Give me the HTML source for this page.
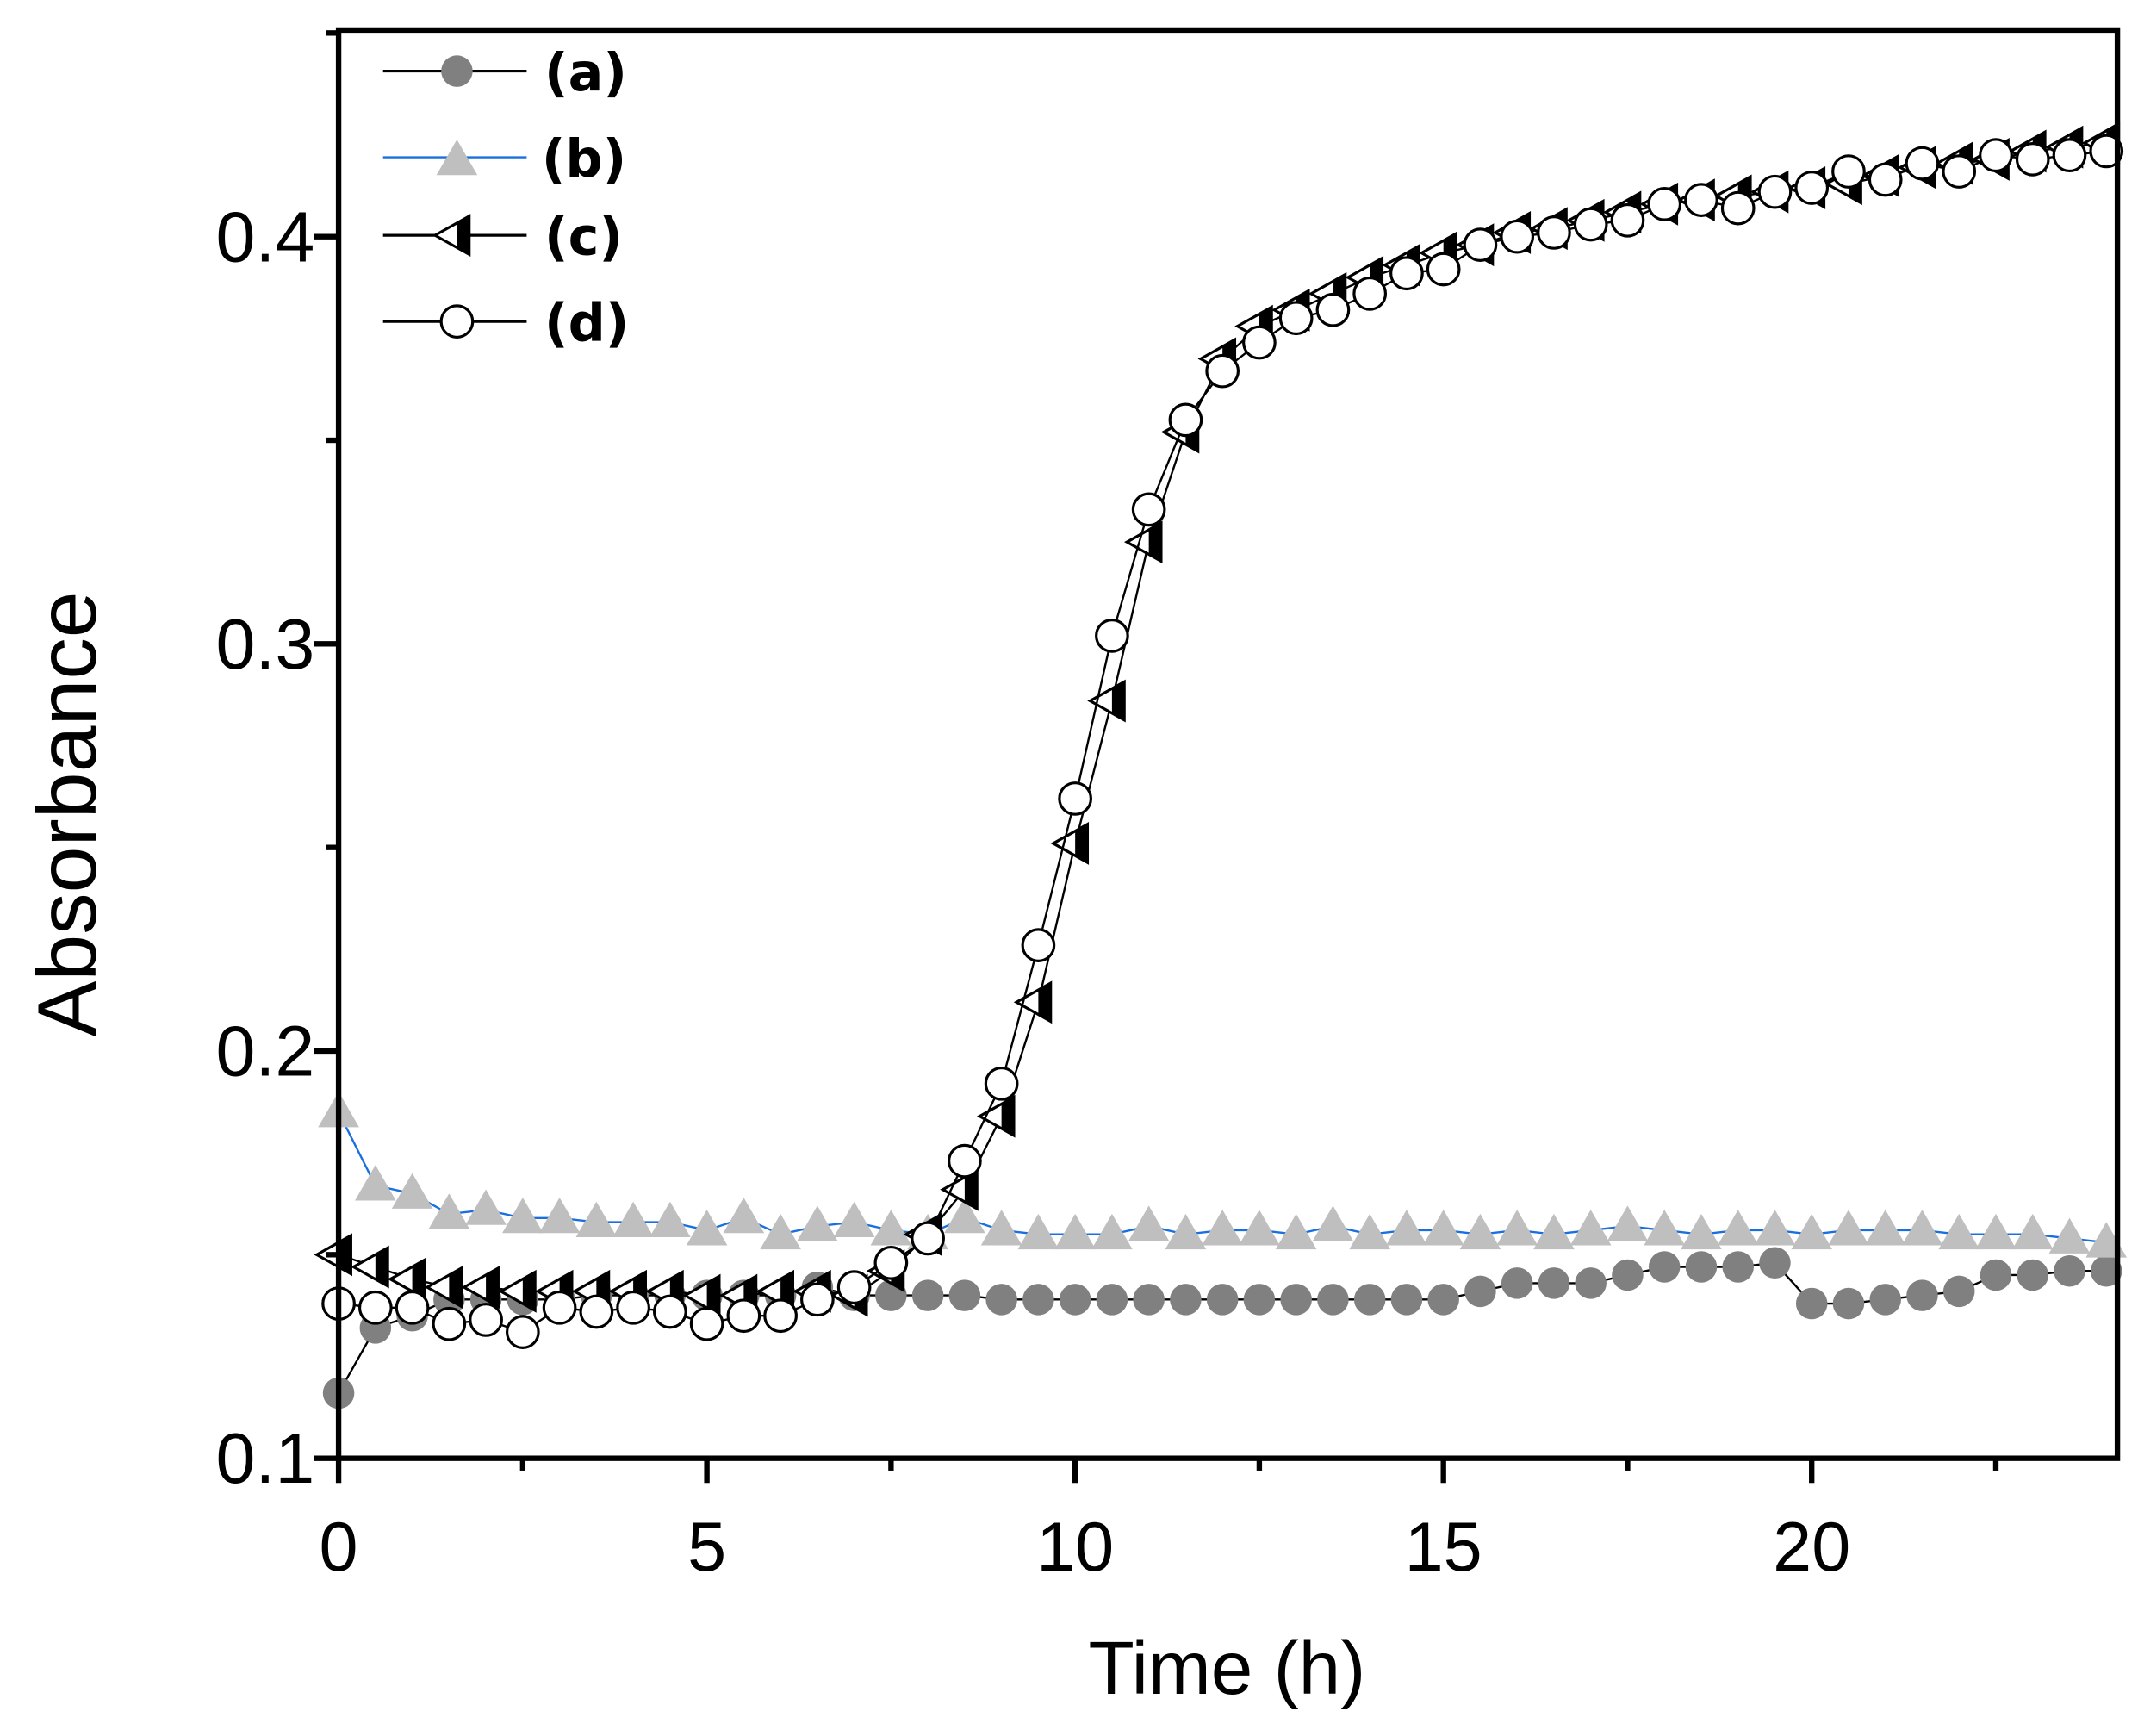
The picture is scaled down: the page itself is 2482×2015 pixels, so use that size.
<!DOCTYPE html>
<html><head><meta charset="utf-8"><style>html,body{margin:0;padding:0;background:#fff}svg{display:block}</style></head>
<body>
<svg id="s" xmlns="http://www.w3.org/2000/svg" width="2482" height="2015" viewBox="0 0 1563 1269" font-family="'Liberation Sans',sans-serif">
<rect width="1563" height="1269" fill="#fff"/>
<g id="plot"></g>
<rect x="247.5" y="22" width="1300.5" height="1044" fill="none" stroke="#000" stroke-width="4"/>
<g id="ax"></g>
<text x="897" y="1238" font-size="55" text-anchor="middle">Time (h)</text>
<text transform="translate(70,595) rotate(-90)" font-size="61" text-anchor="middle">Absorbance</text>
<g id="leg"></g>
</svg>
<script>
const NS="http://www.w3.org/2000/svg";
const X=t=>247.5+t*53.85, Y=v=>1066-(v-0.1)*2976.7;
function el(p,n,a,txt){const e=document.createElementNS(NS,n);for(const k in a)e.setAttribute(k,a[k]);if(txt!==undefined)e.textContent=txt;p.appendChild(e);return e;}
const ax=document.getElementById('ax'),plot=document.getElementById('plot'),leg=document.getElementById('leg');
for(let t=0;t<=24;t+=2.5){const maj=t%5===0;el(ax,'line',{x1:X(t),x2:X(t),y1:1066,y2:1066+(maj?18:9),stroke:'#000','stroke-width':4});
 if(maj)el(ax,'text',{x:X(t),y:1148,'font-size':51,'text-anchor':'middle'},String(t));}
for(let v=0.1;v<=0.451;v+=0.05){const maj=Math.round(v*100)%10===0;const y=Y(v);el(ax,'line',{x1:247.5,x2:247.5-(maj?18:9),y1:y,y2:y,stroke:'#000','stroke-width':4});
 if(maj)el(ax,'text',{x:230,y:y+18,'font-size':52,'text-anchor':'end'},v.toFixed(1));}
const a=[.116,.132,.135,.139,.139,.139,.139,.14,.14,.14,.14,.14,.14,.142,.14,.14,.14,.14,.139,.139,.139,.139,.139,.139,.139,.139,.139,.139,.139,.139,.139,.141,.143,.143,.143,.145,.147,.147,.147,.148,.138,.138,.139,.14,.141,.145,.145,.146,.146];
const b=[.185,.167,.165,.160,.161,.159,.159,.158,.158,.158,.156,.159,.155,.157,.158,.156,.155,.159,.156,.155,.155,.155,.157,.155,.156,.156,.155,.157,.155,.156,.156,.155,.156,.155,.156,.157,.156,.155,.156,.156,.155,.156,.156,.156,.155,.155,.155,.154,.153];
const c=[.150,.147,.144,.142,.142,.141,.141,.141,.141,.141,.140,.140,.141,.141,.140,.146,.155,.166,.184,.212,.251,.286,.325,.352,.370,.378,.382,.386,.390,.393,.396,.398,.401,.402,.404,.406,.408,.409,.410,.411,.412,.413,.415,.417,.418,.419,.421,.422,.423];
const d=[.138,.137,.137,.133,.134,.131,.137,.136,.137,.136,.133,.135,.135,.139,.142,.148,.154,.173,.192,.226,.262,.302,.333,.355,.367,.374,.380,.382,.386,.391,.392,.398,.400,.401,.403,.404,.408,.409,.407,.411,.412,.416,.414,.418,.416,.420,.419,.420,.421];
function line(arr,col,w){el(plot,'polyline',{points:arr.map((v,i)=>X(i*0.5)+','+Y(v)).join(' '),fill:'none',stroke:col,'stroke-width':w});}
function circ(p,x,y,fill){el(p,'circle',{cx:x,cy:y,r:11.5,fill:fill,stroke:fill==='#fff'?'#000':'none','stroke-width':2});}
function tri(p,x,y){el(p,'polygon',{points:`${x},${y-15} ${x+15},${y+11} ${x-15},${y+11}`,fill:'#bfbfbf'});}
function ltri(p,x,y){el(p,'polygon',{points:`${x-16},${y} ${x+9},${y-14} ${x+9},${y+14}`,fill:'#fff',stroke:'#000','stroke-width':2});
 el(p,'polygon',{points:`${x},${y-9} ${x+9},${y-14} ${x+9},${y+14} ${x},${y+9}`,fill:'#000'});}
line(a,'#000',1.5);a.forEach((v,i)=>circ(plot,X(i*.5),Y(v),'#808080'));
line(b,'#1a6fdf',1.5);b.forEach((v,i)=>tri(plot,X(i*.5),Y(v)));
line(c,'#000',1.5);c.forEach((v,i)=>ltri(plot,X(i*.5),Y(v)));
line(d,'#000',1.5);d.forEach((v,i)=>circ(plot,X(i*.5),Y(v),'#fff'));
const ly=[52,115,172,235];const labs=['(a)','(b)','(c)','(d)'];
ly.forEach((y,i)=>{el(leg,'line',{x1:280,x2:385,y1:y,y2:y,stroke:i===1?'#1a6fdf':'#000','stroke-width':i===1?1.5:2});
 if(i===0)circ(leg,334,y,'#808080');if(i===1)tri(leg,334,y+2);if(i===2)ltri(leg,334,y);if(i===3)circ(leg,334,y,'#fff');
 el(leg,'text',{x:i===1?396:398,y:y+14,'font-size':38,'font-weight':'bold','font-family':"'DejaVu Sans',sans-serif"},labs[i]);});
</script>
</body></html>
